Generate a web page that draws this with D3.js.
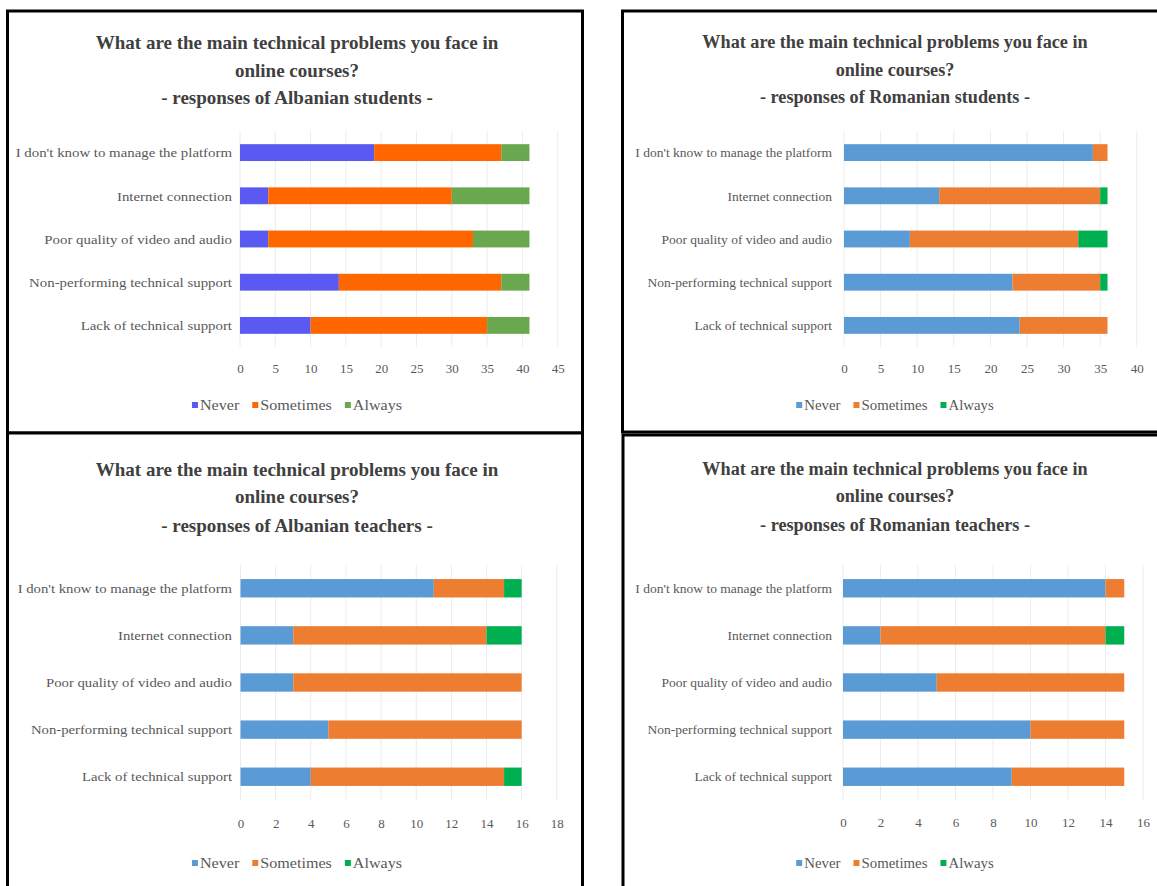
<!DOCTYPE html>
<html>
<head>
<meta charset="utf-8">
<script src="https://cdn.jsdelivr.net/npm/d3@7/dist/d3.min.js"></script>
<style>
  html, body { margin: 0; padding: 0; background: #fff; }
  svg { display: block; }
  text { font-family: "Liberation Serif", "Times New Roman", serif; }
</style>
</head>
<body>
<div id="chart"></div>
<script>
// Shared categories / series
const categories = [
  "I don't know to manage the platform",
  'Internet connection',
  'Poor quality of video and audio',
  'Non-performing technical support',
  'Lack of technical support'
];
const seriesNames = ['Never', 'Sometimes', 'Always'];
const titleHead = ['What are the main technical problems you face in', 'online courses?'];

// Albanian students
const albStudentsNever = [19, 4, 4, 14, 10];
const albStudentsSometimes = [18, 26, 29, 23, 25];
const albStudentsAlways = [4, 11, 8, 4, 6];
const albStudentsTicks = [0, 5, 10, 15, 20, 25, 30, 35, 40, 45];

// Romanian students
const romStudentsNever = [34, 13, 9, 23, 24];
const romStudentsSometimes = [2, 22, 23, 12, 12];
const romStudentsAlways = [0, 1, 4, 1, 0];
const romStudentsTicks = [0, 5, 10, 15, 20, 25, 30, 35, 40];

// Albanian teachers
const albTeachersNever = [11, 3, 3, 5, 4];
const albTeachersSometimes = [4, 11, 13, 11, 11];
const albTeachersAlways = [1, 2, 0, 0, 1];
const albTeachersTicks = [0, 2, 4, 6, 8, 10, 12, 14, 16, 18];

// Romanian teachers
const romTeachersNever = [14, 2, 5, 10, 9];
const romTeachersSometimes = [1, 12, 10, 5, 6];
const romTeachersAlways = [0, 1, 0, 0, 0];
const romTeachersTicks = [0, 2, 4, 6, 8, 10, 12, 14, 16];

const albStudentColors = ['#5a5af2', '#ff6600', '#6aa84f'];
const officeColors = ['#5b9bd5', '#ed7d31', '#00b050'];

const W = 1157, H = 886;

// panel layout (frame = [x0, y0, x1, y1]); the source images were scaled a bit
// differently, so text stretch differs between left and right panels
const panels = [
  {
    group: 'Albanian students', series: [albStudentsNever, albStudentsSometimes, albStudentsAlways],
    ticks: albStudentsTicks, colors: albStudentColors,
    frame: [7.5, 11, 582.5, 433], cx: 297, titleSize: 19, labelStretch: 1.1, legendStretch: 1.15,
    xRange: [240, 557.7], band: [131, 347], labelX: 232,
    titleY: [42, 70, 97], tickY: 368, legendY: 405
  },
  {
    group: 'Romanian students', series: [romStudentsNever, romStudentsSometimes, romStudentsAlways],
    ticks: romStudentsTicks, colors: officeColors,
    frame: [622.5, 11, 1162, 432], cx: 895, titleSize: 18.2, labelStretch: 1, legendStretch: 1.06,
    xRange: [844, 1136.8], band: [131, 347], labelX: 832,
    titleY: [42, 70, 97], tickY: 368, legendY: 405
  },
  {
    group: 'Albanian teachers', series: [albTeachersNever, albTeachersSometimes, albTeachersAlways],
    ticks: albTeachersTicks, colors: officeColors,
    frame: [7.5, 433, 582.5, 892], cx: 297, titleSize: 19, labelStretch: 1.09, legendStretch: 1.15,
    xRange: [240.5, 556.8], band: [564.7, 800.3], labelX: 232,
    titleY: [469, 496, 525], tickY: 823, legendY: 863
  },
  {
    group: 'Romanian teachers', series: [romTeachersNever, romTeachersSometimes, romTeachersAlways],
    ticks: romTeachersTicks, colors: officeColors,
    frame: [623, 435, 1162, 892], cx: 895, titleSize: 18.2, labelStretch: 1, legendStretch: 1.06,
    xRange: [843, 1143], band: [564.7, 800.3], labelX: 832,
    titleY: [469, 496, 525], tickY: 822, legendY: 863
  }
];

const svg = d3.select('#chart').append('svg')
  .attr('width', W)
  .attr('height', H)
  .attr('viewBox', `0 0 ${W} ${H}`);

panels.forEach(drawPanel);

/**
 * Widen text horizontally by factor k, returns the new width
 */
function stretch(node, k) {
  const len = node.getComputedTextLength();
  if (k !== 1) {
    d3.select(node)
      .attr('textLength', len * k)
      .attr('lengthAdjust', 'spacingAndGlyphs');
  }
  return len * k;
}

/**
 * Draw one stacked bar chart panel
 */
function drawPanel(p) {
  const g = svg.append('g').attr('class', 'panel');
  const [fx0, fy0, fx1, fy1] = p.frame;

  // frame
  g.append('rect')
    .attr('x', fx0).attr('y', fy0)
    .attr('width', fx1 - fx0).attr('height', fy1 - fy0)
    .attr('fill', '#fff')
    .attr('stroke', '#000')
    .attr('stroke-width', 3);

  // title
  const titleLines = [...titleHead, `- responses of ${p.group} -`];
  g.selectAll('.title')
    .data(titleLines)
    .join('text')
      .attr('class', 'title')
      .attr('x', p.cx)
      .attr('y', (d, i) => p.titleY[i])
      .attr('dy', '0.35em')
      .attr('text-anchor', 'middle')
      .attr('font-size', p.titleSize)
      .attr('font-weight', 'bold')
      .attr('fill', '#404040')
      .text(d => d);

  const x = d3.scaleLinear()
    .domain([p.ticks[0], p.ticks[p.ticks.length - 1]])
    .range(p.xRange);

  const y = d3.scaleBand()
    .domain(categories)
    .range(p.band)
    .paddingInner(0.61)
    .paddingOuter(0.305);

  // gridlines
  g.append('g')
    .selectAll('line')
    .data(p.ticks)
    .join('line')
      .attr('x1', d => x(d)).attr('x2', d => x(d))
      .attr('y1', p.band[0]).attr('y2', p.band[1])
      .attr('stroke', '#ececec')
      .attr('stroke-width', 1);

  // stacked data
  const rows = categories.map((c, i) => {
    const row = { category: c };
    seriesNames.forEach((s, k) => { row[s] = p.series[k][i]; });
    return row;
  });
  const stacked = d3.stack().keys(seriesNames)(rows);

  g.append('g')
    .selectAll('g')
    .data(stacked)
    .join('g')
      .attr('fill', (d, k) => p.colors[k])
    .selectAll('rect')
    .data(d => d)
    .join('rect')
      .attr('x', d => x(d[0]))
      .attr('y', d => y(d.data.category))
      .attr('width', d => x(d[1]) - x(d[0]))
      .attr('height', y.bandwidth());

  // category labels
  g.selectAll('.cat')
    .data(categories)
    .join('text')
      .attr('class', 'cat')
      .attr('x', p.labelX)
      .attr('y', d => y(d) + y.bandwidth() / 2)
      .attr('dy', '0.35em')
      .attr('text-anchor', 'end')
      .attr('font-size', 13.5)
      .attr('fill', '#595959')
      .text(d => d)
      .each(function () { stretch(this, p.labelStretch); });

  // x axis tick labels
  const axis = d3.axisBottom(x).tickValues(p.ticks).tickSize(0).tickPadding(0);
  const ax = g.append('g')
    .attr('transform', `translate(0,${p.tickY})`)
    .call(axis);
  ax.select('.domain').remove();
  ax.selectAll('text')
    .attr('dy', '0.35em')
    .attr('y', 0)
    .attr('font-size', 13)
    .attr('font-family', '"Liberation Serif", serif')
    .attr('fill', '#595959');

  // legend
  const lg = g.append('g').attr('class', 'legend');
  const items = lg.selectAll('g')
    .data(seriesNames)
    .join('g');
  items.append('rect')
    .attr('width', 6).attr('height', 6)
    .attr('y', -3)
    .attr('fill', (d, k) => p.colors[k]);
  items.append('text')
    .attr('x', 8)
    .attr('dy', '0.35em')
    .attr('font-size', 14)
    .attr('fill', '#595959')
    .text(d => d);

  let offset = 0;
  items.each(function () {
    const w = stretch(this.querySelector('text'), p.legendStretch) + 8;
    d3.select(this).attr('transform', `translate(${offset},0)`);
    offset += w + 13;
  });
  const total = offset - 13;
  lg.attr('transform', `translate(${p.cx - total / 2},${p.legendY})`);
}
</script>
</body>
</html>
